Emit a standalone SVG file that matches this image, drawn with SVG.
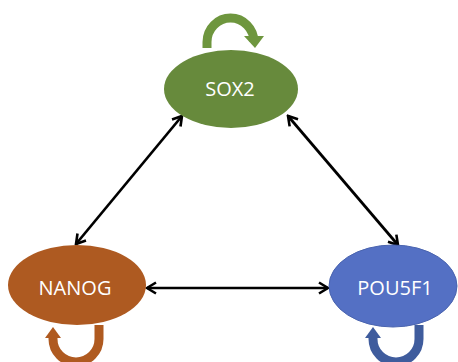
<svg xmlns="http://www.w3.org/2000/svg" width="458" height="362" viewBox="0 0 458 362">
  <defs>
    <marker id="chev" viewBox="0 0 14 14" refX="12" refY="7" markerWidth="14" markerHeight="14" markerUnits="userSpaceOnUse" orient="auto-start-reverse">
      <polyline points="3,1.5 12,7 3,12.5" fill="none" stroke="#000" stroke-width="2.6" stroke-linejoin="miter"/>
    </marker>
  </defs>
  <style>
    .label { font-family: "Open Sans", "Liberation Sans", sans-serif; font-size: 20px; fill: #fff; text-anchor: middle; }
    .edge { fill: none; stroke: #000; stroke-width: 2.7; marker-start: url(#chev); marker-end: url(#chev); }
    .loop { fill: none; stroke-width: 9; }
  </style>
  <rect width="458" height="362" fill="#fff"/>

  <g id="connectors">
    <line class="edge" x1="182" y1="116" x2="76" y2="244"/>
    <line class="edge" x1="288" y1="116" x2="398" y2="245"/>
    <line class="edge" x1="147" y1="288" x2="328" y2="288"/>
  </g>

  <g id="sox2">
    <path class="loop" stroke="#6E963E" d="M207,48 V42 A23.5,24 0 0 1 254,42 V38"/>
    <polygon fill="#6E963E" points="244,36 264,36 255,48"/>
    <ellipse cx="231" cy="89" rx="67" ry="39" fill="#678A3C"/>
    <text class="label" x="230" y="96">SOX2</text>
  </g>

  <g id="nanog">
    <path class="loop" stroke="#AF5A20" d="M99,325 V339 A23,23 0 0 1 53,339 V337"/>
    <polygon fill="#AF5A20" points="45,338 61,338 53,327"/>
    <ellipse cx="77" cy="285" rx="69" ry="40" fill="#AE5A21"/>
    <text class="label" x="75" y="295">NANOG</text>
  </g>

  <g id="pou5f1">
    <path class="loop" stroke="#3F5C9D" d="M419,325 V339 A23,23 0 0 1 373,339 V337"/>
    <polygon fill="#3F5C9D" points="365,338 381,338 373,327"/>
    <ellipse cx="393" cy="286" rx="64" ry="41" fill="#5470C4" stroke="#4A64AF" stroke-width="1"/>
    <text class="label" x="395" y="295">POU5F1</text>
  </g>
</svg>
